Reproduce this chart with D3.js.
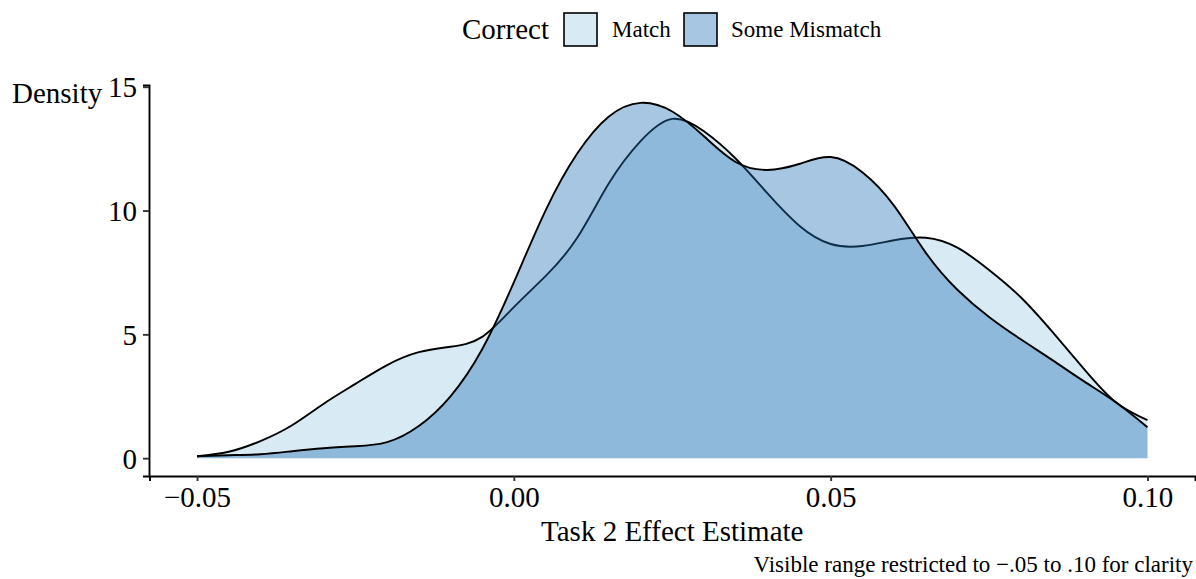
<!DOCTYPE html>
<html><head><meta charset="utf-8">
<script src="https://cdn.jsdelivr.net/npm/d3@7"></script>
<style>
body{margin:0;background:#fff;}
text{font-family:"Liberation Serif","Times New Roman",serif;fill:#000;}
</style></head>
<body>
<svg id="chart" width="1196" height="579"></svg>
<script>
const xGrid = [-0.05,-0.045,-0.04,-0.035,-0.03,-0.025,-0.02,-0.015,-0.01,-0.005,0,0.005,0.01,0.015,0.02,0.025,0.03,0.035,0.04,0.045,0.05,0.055,0.06,0.065,0.07,0.075,0.08,0.085,0.09,0.095,0.10];
const matchDensity = [0.08,0.26,0.69,1.33,2.2,3.0,3.76,4.28,4.5,4.9,6.1,7.35,8.9,11.1,12.8,13.7,13.2,12.1,10.7,9.4,8.65,8.57,8.8,8.9,8.5,7.6,6.5,5.1,3.6,2.26,1.54];
const mismatchDensity = [0.08,0.12,0.16,0.28,0.4,0.48,0.65,1.3,2.5,4.4,7.1,10.0,12.3,13.8,14.35,14.0,13.0,11.96,11.64,11.88,12.16,11.55,10.2,8.3,6.8,5.7,4.8,3.96,3.1,2.26,1.25];
const groups = ["Match","Some Mismatch"];
const groupFills = ["#9ecae1","#2171b5"];
const xTicks = [-0.05,0,0.05,0.10];
const yTicks = [0,5,10,15];

const svg = d3.select("#chart");
const x = d3.scaleLinear().domain([-0.0575,0.1075]).range([149.5,1195]);
const y = d3.scaleLinear().domain([-0.72,15.07]).range([476,85]);

const series = [matchDensity, mismatchDensity];
const area = d3.area().x(d=>x(d[0])).y0(y(0)).y1(d=>y(d[1])).curve(d3.curveNatural);
const line = d3.line().x(d=>x(d[0])).y(d=>y(d[1])).curve(d3.curveNatural);

series.forEach((vals,i)=>{
  const pts = xGrid.map((xv,j)=>[xv,vals[j]]);
  svg.append("path").attr("d",area(pts)).attr("fill",groupFills[i]).attr("fill-opacity",0.4);
  svg.append("path").attr("d",line(pts)).attr("fill","none").attr("stroke","#000").attr("stroke-width",1.9);
});

// axes
const xAxis = svg.append("g").attr("transform","translate(0,476)")
  .call(d3.axisBottom(x).tickValues(xTicks).tickFormat(d3.format(".2f")).tickSizeOuter(0).tickSize(5).tickPadding(5));
const yAxis = svg.append("g").attr("transform","translate(149,0)")
  .call(d3.axisLeft(y).tickValues(yTicks).tickSizeOuter(0).tickSize(6).tickPadding(6));
[xAxis,yAxis].forEach(a=>{
  a.select(".domain").attr("stroke","#000").attr("stroke-width",1.9);
  a.selectAll(".tick line").attr("stroke","#333").attr("stroke-width",1.9);
  a.selectAll(".tick text").attr("font-family","Liberation Serif").attr("font-size",29).attr("fill","#000");
});
yAxis.selectAll(".tick text").attr("dy","0.35em");

svg.append("text").attr("x",x(0.025)).attr("y",541).attr("text-anchor","middle").attr("font-size",29).text("Task 2 Effect Estimate");
svg.append("text").attr("x",12).attr("y",103).attr("font-size",29).text("Density");
svg.append("text").attr("x",1193).attr("y",572).attr("text-anchor","end").attr("font-size",23).text("Visible range restricted to \u2212.05 to .10 for clarity");

// legend
const lg = svg.append("g");
lg.append("text").attr("x",462).attr("y",39).attr("font-size",29).text("Correct");
const keyX = [564,684], labX = [612,731];
groups.forEach((g,i)=>{
  lg.append("rect").attr("x",keyX[i]).attr("y",13).attr("width",33).attr("height",33)
    .attr("fill",groupFills[i]).attr("fill-opacity",0.4).attr("stroke","#000").attr("stroke-width",1.6);
  lg.append("text").attr("x",labX[i]).attr("y",37).attr("font-size",23).text(g);
});
</script>
</body></html>
